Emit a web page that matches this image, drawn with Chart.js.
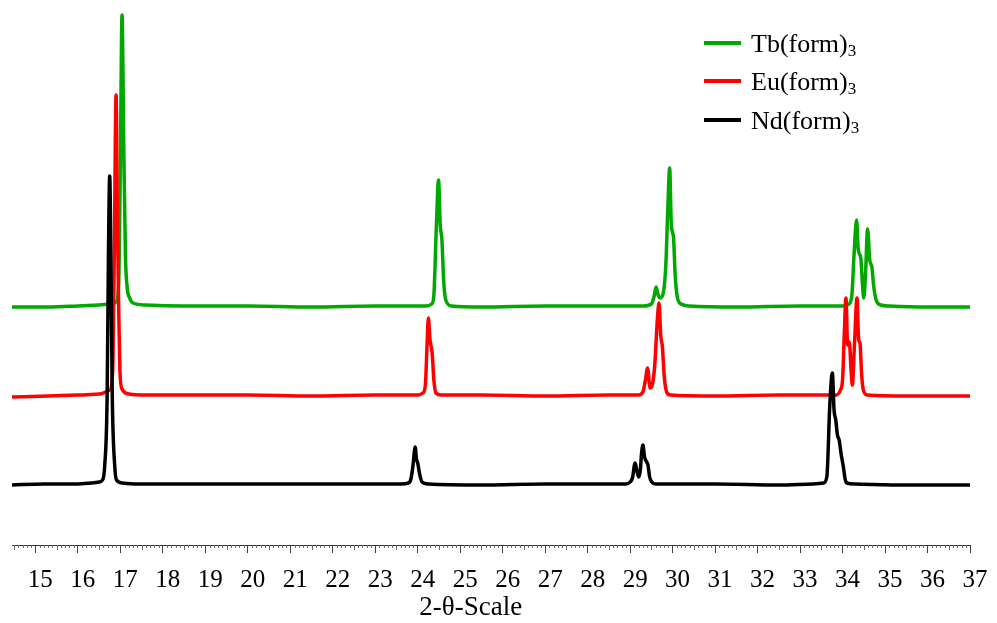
<!DOCTYPE html>
<html>
<head>
<meta charset="utf-8">
<script src="https://cdn.jsdelivr.net/npm/chart.js@4.4.1/dist/chart.umd.min.js"></script>
<style>
  html, body { margin: 0; padding: 0; background: #fff; }
  #wrap { width: 997px; height: 623px; position: relative; }
</style>
</head>
<body>
<div id="wrap"><canvas id="graph1"></canvas></div>
<script>
/*
    XRD patterns of the three formates, stacked traces
*/

// legend names
const seriesNames = ['Tb(form)\u2083', 'Eu(form)\u2083', 'Nd(form)\u2083'];

// Tb(form)3 - green trace (top)
const tbX = [14.45, 15.3, 16.0, 16.5, 16.8, 16.9, 16.96, 17.0, 17.04, 17.08, 17.12, 17.16, 17.22, 17.3, 17.6, 18.5,
             20.0, 21.5, 23.0, 24.0, 24.2, 24.33, 24.38, 24.44, 24.49, 24.53, 24.57, 24.61, 24.66, 24.8, 25.5,
             27.0, 28.5, 29.3, 29.5, 29.56, 29.61, 29.66, 29.71, 29.78, 29.84, 29.89, 29.93, 29.97, 30.02, 30.06,
             30.11, 30.2, 30.4, 31.5, 33.0, 34.0, 34.15, 34.22, 34.27, 34.33, 34.37, 34.43, 34.47, 34.50, 34.54,
             34.59, 34.64, 34.69, 34.73, 34.79, 34.9, 35.1, 36.0, 37.0];
const tbY = [238, 238, 239, 240, 241, 243, 260, 380, 530, 400, 290, 258, 247, 242, 240, 239,
             239, 238, 239, 239, 239, 241, 250, 320, 365, 320, 305, 265, 245, 239, 238,
             239, 239, 239, 241, 248, 258, 250, 247, 252, 280, 340, 377, 320, 308, 270,
             248, 241, 239, 238, 239, 239, 241, 250, 290, 325, 295, 287, 260, 247, 270,
             316, 285, 278, 260, 245, 240, 239, 238, 238];

// Eu(form)3 - red trace (middle)
const euX = [14.45, 15.3, 16.0, 16.5, 16.75, 16.82, 16.86, 16.90, 16.93, 16.96, 16.99, 17.04, 17.2, 17.5, 18.5,
             20.0, 21.5, 23.0, 24.0, 24.12, 24.18, 24.22, 24.25, 24.29, 24.34, 24.38, 24.43, 24.55, 25.5,
             27.0, 28.5, 29.2, 29.3, 29.36, 29.41, 29.47, 29.52, 29.58, 29.64, 29.68, 29.72, 29.76, 29.80,
             29.86, 29.95, 31.0, 32.5, 33.5, 33.85, 33.95, 34.0, 34.04, 34.08, 34.12, 34.16, 34.20, 34.23,
             34.28, 34.34, 34.38, 34.41, 34.45, 34.49, 34.58, 35.5, 37.0];
const euY = [148, 149, 150, 151, 155, 175, 300, 450, 330, 240, 175, 156, 151, 150, 150,
             150, 149, 150, 150, 152, 160, 200, 227, 205, 192, 165, 152, 150, 150,
             149, 150, 150, 153, 165, 177, 157, 160, 180, 225, 242, 210, 198, 170,
             153, 150, 149, 150, 150, 150, 155, 165, 210, 247, 200, 203, 175, 160,
             200, 247, 205, 202, 170, 155, 150, 149, 149];

// Nd(form)3 - black trace (bottom)
const ndX = [14.45, 15.2, 16.0, 16.3, 16.5, 16.58, 16.63, 16.69, 16.72, 16.75, 16.78, 16.81, 16.87, 16.91, 17.05,
             17.4, 18.5, 20.0, 21.5, 23.0, 23.6, 23.78, 23.84, 23.89, 23.94, 23.97, 24.0, 24.04, 24.1, 24.25,
             25.5, 27.0, 28.5, 28.9, 29.0, 29.06, 29.1, 29.12, 29.15, 29.2, 29.24, 29.27, 29.30, 29.34, 29.39,
             29.42, 29.46, 29.51, 29.6, 31.0, 32.5, 33.3, 33.55, 33.63, 33.7, 33.76, 33.8, 33.84, 33.88, 33.92,
             33.97, 34.02, 34.06, 34.10, 34.3, 35.5, 37.0];
const ndY = [60, 61, 61, 62, 63, 65, 78, 150, 290, 369, 280, 150, 78, 65, 62,
             61, 61, 61, 61, 61, 61, 62, 66, 80, 98, 86, 82, 72, 63, 61,
             60, 61, 61, 61, 63, 68, 80, 82, 76, 68, 75, 92, 100, 88, 83,
             80, 68, 63, 61, 61, 60, 61, 62, 68, 140, 172, 135, 125, 110, 105,
             90, 78, 66, 62, 61, 60, 60];

// x-axis range
const xMin = 14.45;
const xMax = 37;

const serif = '"Liberation Serif", "Times New Roman", serif';

function toPoints(xs, ys){
    return xs.map((x, i) => ({x: x, y: ys[i]}));
}

// small tick marks every 0.1 (longer at .5), drawn through the x scale
const minorTicks = {
    id: 'minorTicks',
    afterDraw(chart){
        const sc = chart.scales.x;
        const ctx = chart.ctx;
        ctx.save();
        ctx.strokeStyle = '#666';
        ctx.lineWidth = 1;
        for (let i = Math.ceil(xMin * 10); i <= xMax * 10; i++){
            if (i % 10 === 0) continue;
            const px = Math.round(sc.getPixelForValue(i / 10)) + 0.5;
            const len = (i % 5 === 0) ? 5 : 3;
            ctx.beginPath();
            ctx.moveTo(px, sc.top);
            ctx.lineTo(px, sc.top + len);
            ctx.stroke();
        }
        ctx.restore();
    }
};

// legend inside the plot, top right, with subscript 3
const insideLegend = {
    id: 'insideLegend',
    afterDraw(chart){
        const ctx = chart.ctx;
        const x0 = 704, lineLen = 37, textX = 751;
        const rows = [43, 81, 120];
        ctx.save();
        chart.data.datasets.forEach((ds, i) => {
            const y = rows[i];
            ctx.strokeStyle = ds.borderColor;
            ctx.lineWidth = 4;
            ctx.beginPath();
            ctx.moveTo(x0, y);
            ctx.lineTo(x0 + lineLen, y);
            ctx.stroke();

            const name = ds.label.slice(0, -1);
            ctx.fillStyle = '#000';
            ctx.textBaseline = 'alphabetic';
            ctx.font = '26px ' + serif;
            ctx.fillText(name, textX, y + 9);
            const w = ctx.measureText(name).width;
            ctx.font = '17px ' + serif;
            ctx.fillText('3', textX + w, y + 13);
        });
        ctx.restore();
    }
};

const ctx = document.getElementById('graph1');
const myChart = new Chart(ctx, {
    type: 'line',
    data: {
        datasets: [
            {
                label: seriesNames[0],
                data: toPoints(tbX, tbY),
                borderColor: '#00a800',
                order: 2
            },
            {
                label: seriesNames[1],
                data: toPoints(euX, euY),
                borderColor: '#ff0000',
                order: 1
            },
            {
                label: seriesNames[2],
                data: toPoints(ndX, ndY),
                borderColor: '#000000',
                order: 0
            }
        ]
    },
    options: {
        responsive: true,
        maintainAspectRatio: false,
        animation: false,
        datasets: {
            line: {
                borderWidth: 3.5,
                pointRadius: 0,
                fill: false,
                cubicInterpolationMode: 'monotone'
            }
        },
        layout: {
            padding: {left: 12, right: 27, top: 0, bottom: 0}
        },
        scales: {
            x: {
                type: 'linear',
                min: xMin,
                max: xMax,
                afterFit: function(scale){
                    scale.height = 78;      // axis band below the plot
                },
                border: {display: true, color: '#333', width: 1},
                grid: {
                    drawOnChartArea: false,
                    drawTicks: true,
                    tickLength: 8,
                    tickColor: '#444'
                },
                ticks: {
                    stepSize: 1,
                    includeBounds: false,
                    autoSkip: false,
                    maxRotation: 0,
                    padding: 12,
                    labelOffset: 5,
                    color: '#000',
                    font: {family: serif, size: 25}
                },
                title: {
                    display: true,
                    text: '2-\u03b8-Scale\u2003\u2002',
                    color: '#000',
                    font: {family: serif, size: 27, lineHeight: 1.1},
                    padding: {top: 0, bottom: 0}
                }
            },
            y: {
                display: false,
                min: 0,
                max: 545
            }
        },
        plugins: {
            legend: {display: false},
            tooltip: {enabled: false}
        }
    },
    plugins: [minorTicks, insideLegend]
});
</script>
</body>
</html>
